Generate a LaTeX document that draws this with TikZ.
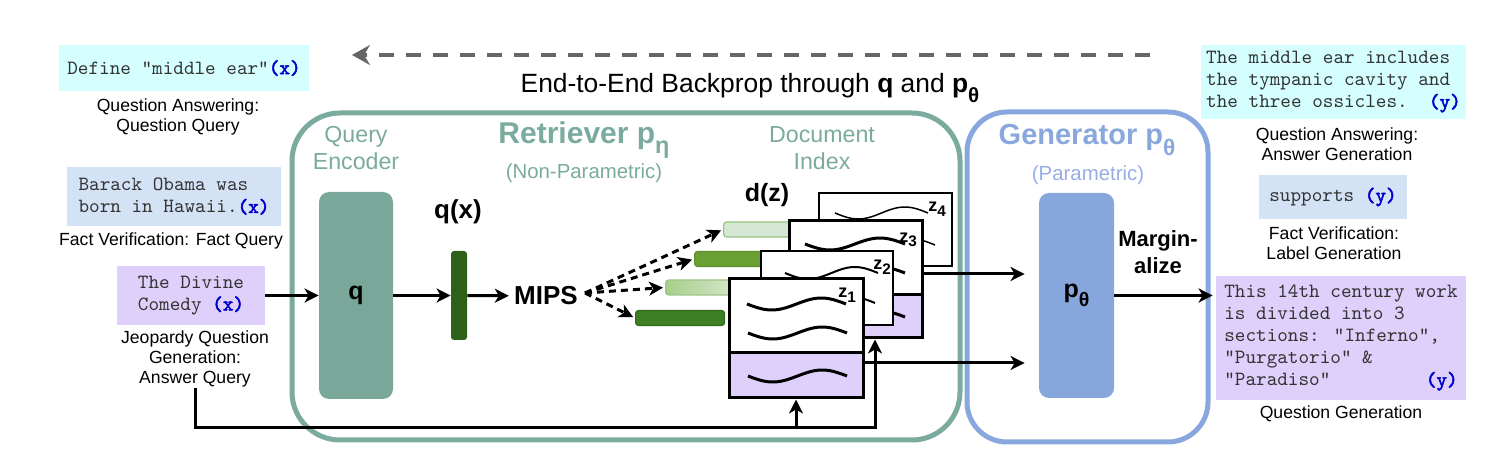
\documentclass[tikz,border=0pt]{standalone}
\usepackage{graphicx}
\usepackage{fontspec}
\setmainfont{Liberation Sans}
\setsansfont{Liberation Sans}
\newfontfamily\xbfont[FakeBold=2.5]{lmmono10-regular.otf}
\usetikzlibrary{arrows.meta}
\definecolor{retrc}{HTML}{7AAB9E}
\definecolor{qfill}{HTML}{79A89B}
\definecolor{genc}{HTML}{88A7DC}
\definecolor{pfill}{HTML}{86A6DC}
\definecolor{paramc}{HTML}{97AEE4}
\definecolor{cyanbg}{HTML}{D5FFFF}
\definecolor{bluebg}{HTML}{D4E2F6}
\definecolor{purpbg}{HTML}{DED0FA}
\definecolor{monogray}{HTML}{333333}
\definecolor{xblue}{HTML}{0000CC}
\definecolor{bpgray}{HTML}{666666}
\definecolor{qxgreen}{HTML}{2D6119}
\definecolor{bafill}{HTML}{D5E8D4}
\definecolor{badraw}{HTML}{97C27F}
\definecolor{bbfill}{HTML}{6A9F34}
\definecolor{bbdraw}{HTML}{5C8E2B}
\definecolor{bcleft}{HTML}{A6CF8A}
\definecolor{bcright}{HTML}{DCEBD5}
\definecolor{bcdraw}{HTML}{9DC585}
\definecolor{bdfill}{HTML}{3C7F25}
\definecolor{bddraw}{HTML}{2F6A1B}
\newcommand\lsub[1]{\raisebox{-0.35em}{\scalebox{0.78}{#1}}}
\newcommand\xb[1]{\textcolor{xblue}{\xbfont #1}}
\newcommand\zlab[1]{\bfseries z\raisebox{-0.25em}{\scalebox{0.85}{#1}}}
\newcommand\wave[4]{\draw[#4] plot[domain=0:1,samples=31,smooth] ({#1+#3*\x},{#2+6*sin(360*\x)});}
\begin{document}
\begin{tikzpicture}[x=0.5pt,y=-0.5pt,
  arr/.style={line width=1.5pt,-{Stealth[length=7pt,width=7pt,inset=2pt]}},
  darr/.style={arr,dash pattern=on 3.5pt off 2.5pt},
  lab/.style={font=\fontsize{8.8}{10}\selectfont,align=center,inner sep=0pt},
  mono/.style={font=\fontsize{10.1}{11}\selectfont\ttfamily,text=monogray,inner sep=0pt},
  title/.style={inner sep=0pt,align=center},
  bar/.style={rounded corners=1.5pt,line width=0.6pt,minimum height=7.5pt,inner sep=0pt,anchor=west},
  wthick/.style={line width=1.5pt},
  wthin/.style={line width=0.75pt},
  wmid/.style={line width=1pt},
  zl/.style={font=\fontsize{9}{10}\selectfont,inner sep=0pt},
]
\useasboundingbox (0,0) rectangle (1506,470);

% frames
\node[draw=retrc,line width=2.5pt,rounded corners=24pt,minimum width=334pt,minimum height=163.5pt] (retr) at (626,276.5) {};
\node[draw=genc,line width=2.5pt,rounded corners=20pt,minimum width=120.5pt,minimum height=165pt] (gen) at (1087.5,277) {};

% backprop
\coordinate (bpR) at (1150,55);
\coordinate (bpL) at (352,55);
\draw[bpgray,line width=2pt,dash pattern=on 7.5pt off 6pt,-{Stealth[length=9pt,width=10pt,inset=3pt]}] (bpR) -- (bpL);
\node[title,font=\fontsize{13.2}{15}\selectfont] (bptext) at (750,88) {End-to-End Backprop through \textbf{q} and \textbf{p\lsub{θ}}};

% left inputs
\node[mono,fill=cyanbg,minimum width=125pt,minimum height=23pt] (lq1) at (184,68) {Define "middle ear"\xb{(x)}};
\node[lab] (lq1lab) at (178,117) {Question Answering:\\Question Query};
\node[mono,fill=bluebg,minimum width=107pt,minimum height=29.5pt,align=left] (lq2) at (174,196.5) {Barack Obama was\\born in Hawaii.\xb{(x)}};
\node[lab] (lq2lab) at (171,241) {Fact Verification: Fact Query};
\node[mono,fill=purpbg,minimum width=74pt,minimum height=29.5pt,align=left] (lq3) at (191,295.5) {The Divine\\Comedy \xb{(x)}};
\node[lab] (lq3lab) at (195,359) {Jeopardy Question\\Generation:\\Answer Query};

% right outputs
\node[mono,fill=cyanbg,minimum width=132.5pt,minimum height=37pt,align=left] (rq1) at (1333.5,82) {The middle ear includes\\the tympanic cavity and\\the three ossicles.\hspace{1.05em}\xb{(y)}};
\node[lab] (rq1lab) at (1337,144) {Question Answering:\\Answer Generation};
\node[mono,fill=bluebg,minimum width=74pt,minimum height=22pt] (rq2) at (1333,197) {supports \xb{(y)}};
\node[lab] (rq2lab) at (1334,243) {Fact Verification:\\Label Generation};
\node[mono,fill=purpbg,minimum width=125pt,minimum height=62pt,align=left] (rq3) at (1341,338) {This 14th century work\\is divided into 3\\sections: "Inferno",\\"Purgatorio" \&\\"Paradiso"\hspace{4.725em}\xb{(y)}};
\node[lab] (rq3lab) at (1341,414) {Question Generation};

% titles
\node[title,text=retrc,font=\fontsize{11.6}{13.5}\selectfont] (qenc) at (356,148) {Query\\Encoder};
\node[title,text=retrc,font=\fontsize{15}{18}\selectfont\bfseries] (rtitle) at (584,140) {Retriever p\lsub{η}};
\node[title,text=retrc,font=\fontsize{10.2}{12}\selectfont] (nonp) at (584,173) {(Non-Parametric)};
\node[title,text=retrc,font=\fontsize{11.6}{13.5}\selectfont] (docidx) at (822,148) {Document\\Index};
\node[title,text=genc,font=\fontsize{14.5}{18}\selectfont\bfseries] (gtitle) at (1087,140) {Generator p\lsub{θ}};
\node[title,text=paramc,font=\fontsize{10.2}{12}\selectfont] (param) at (1088,175) {(Parametric)};
\node[title,font=\fontsize{11}{13.5}\selectfont\bfseries] (marg) at (1158,252) {Margin-\\alize};
\node[title,font=\fontsize{13}{15}\selectfont\bfseries] (qxlab) at (458,212) {q(x)};
\node[title,font=\fontsize{12.5}{15}\selectfont\bfseries] (dzlab) at (767,195) {d(z)};
\node[title,font=\fontsize{13}{15}\selectfont\bfseries] (mips) at (546,296) {MIPS};

% encoder / generator blocks
\node[fill=qfill,rounded corners=5pt,minimum width=37pt,minimum height=103.5pt,font=\fontsize{12.5}{15}\selectfont\bfseries] (q) at (356,295.5) {q};
\node[fill=qxgreen,rounded corners=1.5pt,minimum width=8pt,minimum height=44.5pt,inner sep=0pt] (qx) at (459,295.5) {};
\node[fill=pfill,rounded corners=5pt,minimum width=37.5pt,minimum height=102.5pt,font=\fontsize{12.5}{15}\selectfont\bfseries] (p) at (1076.5,295.5) {p\lsub{θ}};

% document vectors
\node[bar,fill=bafill,draw=badraw,minimum width=55pt] (bara) at (723,229.5) {};
\node[bar,fill=bbfill,draw=bbdraw,minimum width=40pt] (barb) at (694,259) {};
\node[bar,left color=bcleft,right color=bcright,draw=bcdraw,minimum width=40pt] (barc) at (665,287.5) {};
\node[bar,fill=bdfill,draw=bddraw,minimum width=44.5pt] (bard) at (635,318) {};

% documents
\node[draw,fill=white,line width=0.75pt,minimum width=66.5pt,minimum height=36.5pt,inner sep=0pt] (z4) at (885.5,229.5) {};
\wave{835}{213}{93}{wthin}
\wave{842}{245}{93}{wthin}
\node[zl] (z4l) at (937,209) {\zlab{4}};

\node[draw,fill=white,line width=1.5pt,minimum width=66.5pt,minimum height=58.5pt,inner sep=0pt] (z3) at (855.5,279.5) {};
\node[draw,fill=purpbg,line width=1.5pt,minimum width=66.5pt,minimum height=21.5pt,inner sep=0pt] (z3b) at (855.5,316.5) {};
\wave{805}{244}{100}{wthick}
\wave{805}{273}{100}{wthick}
\wave{805}{317}{100}{wthick}
\node[zl] (z3l) at (908,240) {\zlab{3}};

\node[draw,fill=white,line width=1pt,minimum width=66pt,minimum height=37pt,inner sep=0pt] (z2) at (827,288) {};
\wave{785}{273}{93}{wmid}
\wave{782}{303}{93}{wmid}
\node[zl] (z2l) at (882,267) {\zlab{2}};

\node[draw,fill=white,line width=1.5pt,minimum width=67pt,minimum height=59.5pt,inner sep=0pt] (z1) at (796,338.5) {};
\node[draw,fill=purpbg,line width=1.5pt,minimum width=67pt,minimum height=22.5pt,inner sep=0pt] (z1b) at (796,375.5) {};
\wave{747}{304}{99}{wthick}
\wave{748}{333}{99}{wthick}
\wave{748}{376}{99}{wthick}
\node[zl] (z1l) at (847,295) {\zlab{1}};

% connectors
\draw[arr] (lq3) -- (q);
\draw[arr] (q) -- (qx);
\draw[arr,shorten >=2.5pt] (qx) -- (mips);
\coordinate (ms) at (585,293);
\draw[darr,shorten >=1pt] (ms) -- (bara.west);
\draw[darr,shorten >=1pt] (ms) -- (barb.west);
\draw[darr,shorten >=1pt] (ms) -- (barc.west);
\draw[darr,shorten >=1pt] (ms) -- (bard.west);
\draw[arr,shorten >=7pt] ([yshift=2.75pt]z3.east) -- ([yshift=2.75pt]z3.east -| p.west);
\draw[arr,shorten >=7pt] ([yshift=6.25pt]z1b.east) -- ([yshift=6.25pt]z1b.east -| p.west);
\draw[arr,shorten >=1.5pt] (p) -- (p -| rq3.west);
\coordinate (bc) at (875,428);
\draw[arr] (lq3lab.south) |- (bc) -- (bc |- z3.south);
\draw[arr] (z1.south |- bc) -- (z1.south);
\end{tikzpicture}
\end{document}
